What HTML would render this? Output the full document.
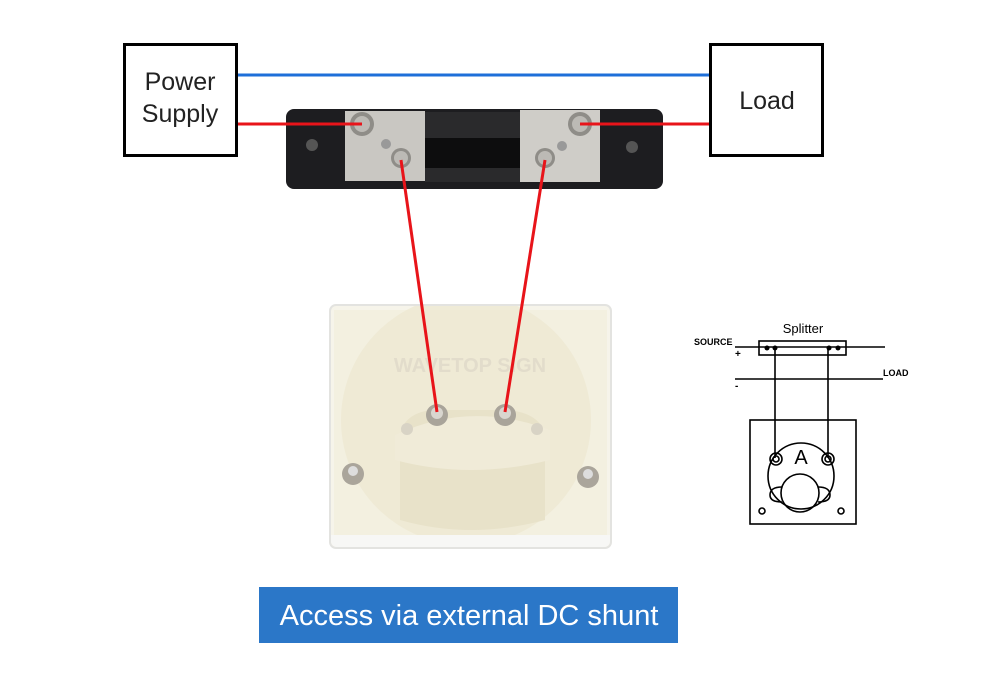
<!DOCTYPE html>
<html><head><style>body{margin:0;background:#fff}svg{display:block}</style></head><body>
<svg width="1000" height="686" viewBox="0 0 1000 686" xmlns="http://www.w3.org/2000/svg" font-family="Liberation Sans, sans-serif">
<defs><clipPath id="mc"><rect x="331" y="306" width="279" height="241" rx="6"/></clipPath></defs>
<rect width="1000" height="686" fill="#fff"/>
<!-- meter -->
<rect x="330" y="305" width="281" height="243" rx="6" fill="#f6f4ea" stroke="#e3e3e0" stroke-width="2"/>
<g clip-path="url(#mc)">
<rect x="334" y="310" width="273" height="225" fill="#f3f0e0"/>
<circle cx="466" cy="420" r="125" fill="#ede8d2" opacity="0.8"/>
<path d="M400 440 Q400 415 430 410 L510 410 Q545 415 545 440 L545 520 Q470 540 400 520 Z" fill="#e8e2c9"/>
<path d="M395 435 Q470 400 550 430 L550 460 Q470 480 395 460 Z" fill="#f0ebd8"/>
<rect x="331" y="535" width="279" height="12" fill="#f7f7f5"/>
</g>
<text x="470" y="372" font-size="20" font-weight="bold" fill="#e2dccb" text-anchor="middle">WAVETOP SIGN</text>
<circle cx="437" cy="415" r="11" fill="#a9a49a"/><circle cx="437" cy="413" r="6" fill="#d9d6cf"/>
<circle cx="505" cy="415" r="11" fill="#a9a49a"/><circle cx="505" cy="413" r="6" fill="#d9d6cf"/>
<circle cx="407" cy="429" r="6" fill="#d8d3c5"/><circle cx="537" cy="429" r="6" fill="#d8d3c5"/>
<circle cx="353" cy="474" r="11" fill="#aaa59b"/><circle cx="353" cy="471" r="5" fill="#ddd"/>
<circle cx="588" cy="477" r="11" fill="#aaa59b"/><circle cx="588" cy="474" r="5" fill="#ddd"/>
<!-- shunt -->
<rect x="286" y="109" width="377" height="80" rx="8" fill="#1d1d20"/>
<rect x="425" y="112" width="95" height="70" fill="#2a2a2c"/>
<rect x="425" y="138" width="95" height="30" fill="#0d0d0e"/>
<circle cx="312" cy="145" r="6" fill="#555"/><circle cx="632" cy="147" r="6" fill="#555"/>
<rect x="345" y="111" width="80" height="70" fill="#c9c7c2"/>
<rect x="520" y="110" width="80" height="72" fill="#cfcdc8"/>
<circle cx="362" cy="124" r="12" fill="#8f8d88"/><circle cx="362" cy="124" r="8" fill="#bcbab5"/>
<circle cx="401" cy="158" r="10" fill="#8f8d88"/><circle cx="401" cy="158" r="7" fill="#bcbab5"/>
<circle cx="386" cy="144" r="5" fill="#999"/>
<circle cx="580" cy="124" r="12" fill="#8f8d88"/><circle cx="580" cy="124" r="8" fill="#bcbab5"/>
<circle cx="545" cy="158" r="10" fill="#8f8d88"/><circle cx="545" cy="158" r="7" fill="#bcbab5"/>
<circle cx="562" cy="146" r="5" fill="#999"/>
<!-- wires -->
<line x1="237" y1="75" x2="709" y2="75" stroke="#1e6fd9" stroke-width="3"/>
<line x1="237" y1="124" x2="362" y2="124" stroke="#e8141a" stroke-width="3"/>
<line x1="580" y1="124" x2="709" y2="124" stroke="#e8141a" stroke-width="3"/>
<line x1="401" y1="160" x2="437" y2="412" stroke="#e8141a" stroke-width="3"/>
<line x1="545" y1="160" x2="505" y2="412" stroke="#e8141a" stroke-width="3"/>
<!-- boxes -->
<rect x="124.5" y="44.5" width="112" height="111" fill="#fff" stroke="#000" stroke-width="3"/>
<text x="180" y="90" font-size="25" text-anchor="middle" fill="#222">Power</text>
<text x="180" y="122" font-size="25" text-anchor="middle" fill="#222">Supply</text>
<rect x="710.5" y="44.5" width="112" height="111" fill="#fff" stroke="#000" stroke-width="3"/>
<text x="767" y="109" font-size="25" text-anchor="middle" fill="#222">Load</text>
<!-- schematic -->
<g stroke="#000" stroke-width="1.6" fill="none">
<line x1="735" y1="347" x2="885" y2="347"/>
<rect x="759" y="341" width="87" height="14"/>
<line x1="735" y1="379" x2="883" y2="379"/>
<line x1="775" y1="347" x2="775" y2="458"/>
<line x1="828" y1="347" x2="828" y2="458"/>
<rect x="750" y="420" width="106" height="104"/>
<circle cx="801" cy="476" r="33"/>
<circle cx="776" cy="459" r="6"/><circle cx="776" cy="459" r="3"/>
<circle cx="828" cy="459" r="6"/><circle cx="828" cy="459" r="3"/>
<circle cx="800" cy="493" r="19"/>
<path d="M782 487 q-12 0 -12 8 q0 7 12 7"/><path d="M818 487 q12 0 12 8 q0 7 -12 7"/>
<circle cx="762" cy="511" r="3"/><circle cx="841" cy="511" r="3"/>
</g>
<g fill="#000"><circle cx="767" cy="348" r="2.5"/><circle cx="775" cy="348" r="2.5"/><circle cx="829" cy="348" r="2.5"/><circle cx="838" cy="348" r="2.5"/></g>
<text x="803" y="333" font-size="13" text-anchor="middle">Splitter</text>
<text x="694" y="345" font-size="9" font-weight="bold">SOURCE</text>
<text x="735" y="357" font-size="10" font-weight="bold">+</text>
<text x="735" y="389" font-size="10" font-weight="bold">-</text>
<text x="883" y="376" font-size="9" font-weight="bold">LOAD</text>
<text x="801" y="464" font-size="20" text-anchor="middle">A</text>
<!-- banner -->
<rect x="259" y="587" width="419" height="56" fill="#2b77c8"/>
<text x="469" y="625" font-size="29" fill="#fff" text-anchor="middle">Access via external DC shunt</text>
</svg>
</body></html>
